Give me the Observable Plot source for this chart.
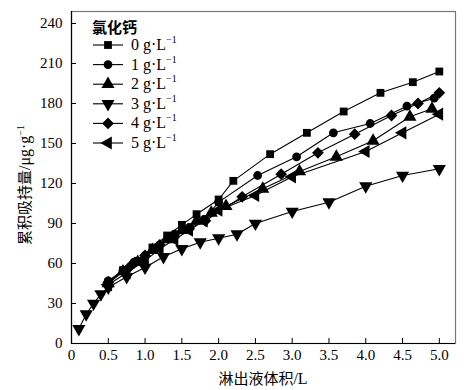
<!DOCTYPE html>
<html><head><meta charset="utf-8">
<script src="https://cdn.jsdelivr.net/npm/d3@7"></script>
<script src="https://cdn.jsdelivr.net/npm/@observablehq/plot@0.6"></script>
<style>body{margin:0;background:#fff}#chart{position:relative;width:473px;height:390px}</style>
</head><body><div id="chart"></div>
<script>
// ---- data ----
const legendTitle = "氯化钙";
const concentrations = ["0", "1", "2", "3", "4", "5"];
const unitText = "g·L";
const unitSup = "−1";
const xLabel = "淋出液体积/L";
const yLabelMain = "累积吸持量/μg·g";
const yLabelSup = "−1";
const xTicks = [0, 0.5, 1.0, 1.5, 2.0, 2.5, 3.0, 3.5, 4.0, 4.5, 5.0];
const yTicks = [0, 30, 60, 90, 120, 150, 180, 210, 240];

const x0 = [0.5, 0.7, 0.9, 1.1, 1.3, 1.5, 1.7, 2.0, 2.2, 2.7, 3.2, 3.7, 4.2, 4.64, 5.0];
const y0 = [46, 55, 62, 72, 81, 89, 97, 108, 122, 142, 158, 174, 188, 196, 204];
const x1 = [0.5, 0.7, 0.85, 1.0, 1.2, 1.4, 1.6, 1.8, 2.0, 2.53, 3.06, 3.56, 4.06, 4.56, 4.93];
const y1 = [47, 55, 61, 66, 74, 82, 87, 93, 106, 126, 140, 158, 165, 178, 184];
const x2 = [0.5, 0.7, 0.9, 1.1, 1.3, 1.5, 1.7, 1.9, 2.1, 2.6, 3.1, 3.6, 4.1, 4.6, 4.9];
const y2 = [45, 54, 61, 70, 78, 85, 92, 98, 103, 116, 129, 140, 152, 170, 176];
const x3 = [0.1, 0.2, 0.3, 0.4, 0.5, 0.75, 1.0, 1.25, 1.5, 1.75, 2.0, 2.25, 2.5, 3.0, 3.5, 4.0, 4.5, 5.0];
const y3 = [11, 22, 30, 37, 42, 50, 57, 65, 71, 76, 79, 82, 90, 99, 106, 118, 126, 131];
const x4 = [0.5, 0.8, 1.0, 1.2, 1.4, 1.6, 1.82, 2.32, 2.85, 3.35, 3.85, 4.35, 4.71, 5.0];
const y4 = [46, 58, 66, 74, 80, 86, 92, 110, 127, 143, 157, 171, 180, 188];
const x5 = [0.5, 0.75, 1.0, 1.2, 1.4, 1.6, 1.8, 2.0, 2.5, 3.0, 4.0, 4.5, 5.0];
const y5 = [44, 53, 62, 71, 78, 85, 92, 100, 111, 125, 144, 158, 172];

// ---- styling ----
const xs = [x0, x1, x2, x3, x4, x5];
const ys = [y0, y1, y2, y3, y4, y5];
const symbols = ["square", "circle", "triangle", "triangle", "diamond2", "triangle"];
const rotations = [0, 0, 0, 180, 0, -90];
const radii = [4.4, 4.4, 4.9, 4.9, 5.3, 4.9];
const d3Symbols = {square: d3.symbolSquare, circle: d3.symbolCircle, triangle: d3.symbolTriangle, diamond2: d3.symbolDiamond2};

const series = xs.map((xa, i) => xa.map((x, j) => ({x, y: ys[i][j]})));

const serif = "'Liberation Serif', 'Times New Roman', serif";
const cjk = "'Noto Sans CJK SC', sans-serif";
const fmt = d => d === 0 ? "0" : d.toFixed(1);

const marks = [
  Plot.frame({stroke: "#777", strokeWidth: 1.2}),
  Plot.ruleX([0], {stroke: "#000", strokeWidth: 1.2}),
  Plot.ruleY([0], {stroke: "#000", strokeWidth: 1.2}),
  Plot.axisX(xTicks, {tickSize: -5, tickPadding: 11, tickFormat: fmt, label: null, fontSize: 15}),
  Plot.axisY(yTicks, {tickSize: -5, tickPadding: 14, label: null, fontSize: 15})
];
series.forEach((data, i) => {
  marks.push(Plot.line(data, {x: "x", y: "y", stroke: "#000", strokeWidth: 1.1}));
  marks.push(Plot.dot(data, {x: "x", y: "y", symbol: symbols[i], rotate: rotations[i], r: radii[i], fill: "#000", stroke: "none"}));
});

const chart = Plot.plot({
  width: 473, height: 390,
  marginTop: 11, marginRight: 18, marginBottom: 47, marginLeft: 71,
  x: {domain: [0, 5.22]},
  y: {domain: [0, 249]},
  style: {fontFamily: serif, fontSize: "15px", color: "#000", background: "#fff"},
  marks
});
document.getElementById("chart").appendChild(chart);

// ---- labels & legend ----
const svg = d3.select(chart);
const g = svg.append("g").attr("text-anchor", "start");
// x label
const xl = g.append("text").attr("x", 263).attr("y", 384).attr("text-anchor", "middle")
  .style("font-size", "15px").style("font-family", cjk).attr("fill", "#000");
xl.append("tspan").text(xLabel.replace("/L", ""));
xl.append("tspan").style("font-family", serif).style("font-size", "16px").text("/L");
// y label
const yl = g.append("text").attr("transform", "translate(30,185) rotate(-90)").attr("text-anchor", "middle")
  .style("font-size", "15px").style("font-family", cjk).attr("fill", "#000");
yl.append("tspan").text(yLabelMain.split("/")[0]);
yl.append("tspan").style("font-family", serif).style("font-size", "16px").text("/" + yLabelMain.split("/")[1]);
yl.append("tspan").style("font-family", serif).style("font-size", "10px").attr("dy", "-6").text(yLabelSup);

// legend
const lg = g.append("g");
lg.append("text").attr("x", 92).attr("y", 33).attr("text-anchor", "start").style("font-family", cjk).style("font-size", "15px")
  .style("font-weight", "600").attr("fill", "#000").text(legendTitle);
concentrations.forEach((c, i) => {
  const cy = 45 + i * 19.6;
  lg.append("line").attr("x1", 93).attr("x2", 123).attr("y1", cy).attr("y2", cy).attr("stroke", "#000").attr("stroke-width", 1.1);
  lg.append("path").attr("d", d3.symbol(d3Symbols[symbols[i]], Math.PI * radii[i] * radii[i])())
    .attr("transform", `translate(108,${cy}) rotate(${rotations[i]})`).attr("fill", "#000");
  const t = lg.append("text").attr("x", 131).attr("y", cy + 5).attr("text-anchor", "start").style("font-family", serif).style("font-size", "16px").attr("fill", "#000");
  t.append("tspan").text(c + " " + unitText);
  t.append("tspan").style("font-size", "10px").attr("dy", "-7").text(unitSup);
});
</script>
</body></html>
